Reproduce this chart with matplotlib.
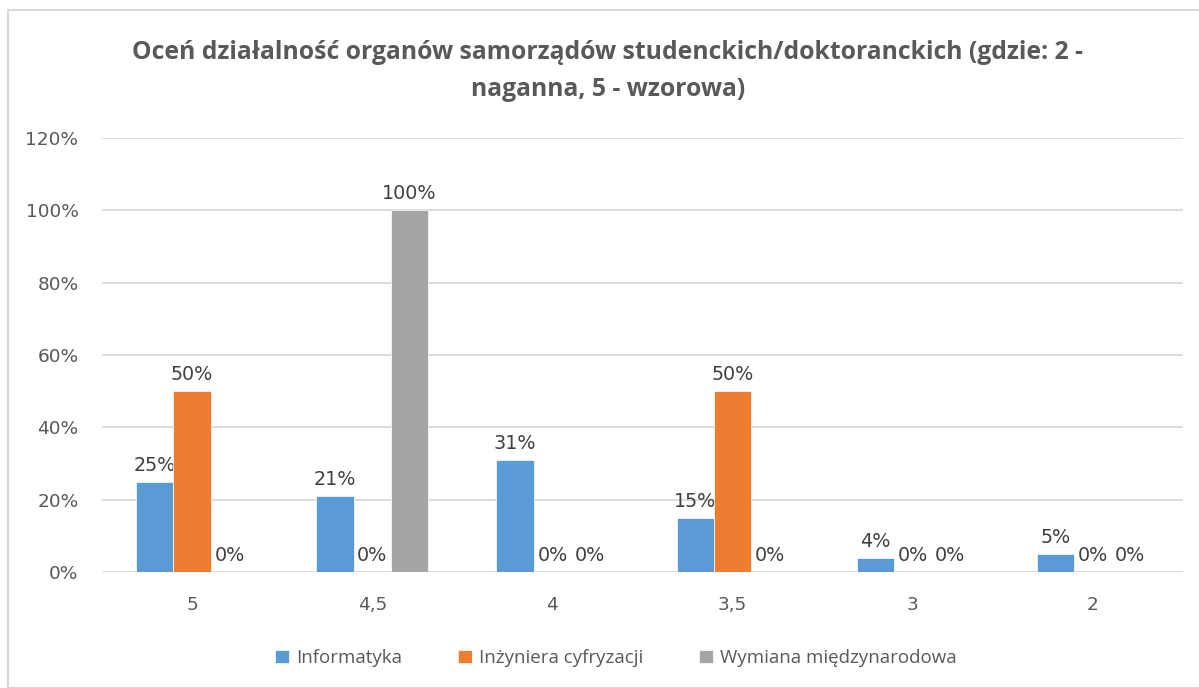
import matplotlib
matplotlib.use("Agg")
import matplotlib.pyplot as plt
from matplotlib.patches import Rectangle
import numpy as np

categories = ["5", "4,5", "4", "3,5", "3", "2"]
informatyka = [25, 21, 31, 15, 4, 5]
inzyniera = [50, 0, 0, 50, 0, 0]
wymiana = [0, 100, 0, 0, 0, 0]
series_names = ["Informatyka", "Inżyniera cyfryzacji", "Wymiana międzynarodowa"]
colors = ["#5B9BD5", "#ED7D31", "#A5A5A5"]
yticks = [0, 20, 40, 60, 80, 100, 120]

txt = "#595959"
W, H = 1199, 688
fig = plt.figure(figsize=(W / 100, H / 100), dpi=100)

# outer frame like the Excel chart border
fig.patches.append(Rectangle((8 / W, 0), 1.0, 1 - 10 / H, transform=fig.transFigure,
                             fill=False, edgecolor="#D9D9D9", lw=1.5))

ax = fig.add_axes([102 / W, 1 - 572 / H, (1183 - 102) / W, (572 - 138) / H])

x = np.arange(len(categories))
bw = 0.207
for i, (vals, name, c) in enumerate(zip([informatyka, inzyniera, wymiana], series_names, colors)):
    pos = x + (i - 1) * bw
    bars = ax.bar(pos, vals, bw, color=c, label=name, edgecolor="white", linewidth=0.5, zorder=3)
    for b, v in zip(bars, vals):
        ax.annotate(f"{v}%", (b.get_x() + b.get_width() / 2, v), xytext=(0, 5),
                    textcoords="offset points", ha="center", va="bottom",
                    fontsize=13.8, color="#404040", family="DejaVu Sans")

ax.set_xlim(-0.5, len(categories) - 0.5)
ax.set_ylim(0, 120)
ax.set_yticks(yticks)
ax.set_yticklabels([f"{t}%" for t in yticks], fontsize=13.3, color=txt, family="DejaVu Sans")
ax.set_xticks(x)
ax.set_xticklabels(categories, fontsize=13.3, color=txt, family="DejaVu Sans")
ax.tick_params(length=0)
ax.tick_params(axis="x", pad=17)
ax.tick_params(axis="y", pad=17)
ax.grid(axis="y", color="#D9D9D9", lw=1.3, zorder=0)
for s in ax.spines.values():
    s.set_visible(False)

fig.text(608 / W, 1 - 71 / H, "Oceń działalność organów samorządów studenckich/doktoranckich (gdzie: 2 -\nnaganna, 5 - wzorowa)",
         ha="center", va="center", fontsize=17.8, fontweight="bold", color=txt,
         family="Open Sans", linespacing=1.6)

leg = fig.legend(loc="center", bbox_to_anchor=(616 / W, 1 - 658 / H), ncol=3, frameon=False,
                 prop={"family": "Open Sans", "size": 13.5},
                 handlelength=0.75, handleheight=0.75, handletextpad=0.35, columnspacing=3.0)
for t in leg.get_texts():
    t.set_color(txt)

fig.savefig("out.png", dpi=100)
